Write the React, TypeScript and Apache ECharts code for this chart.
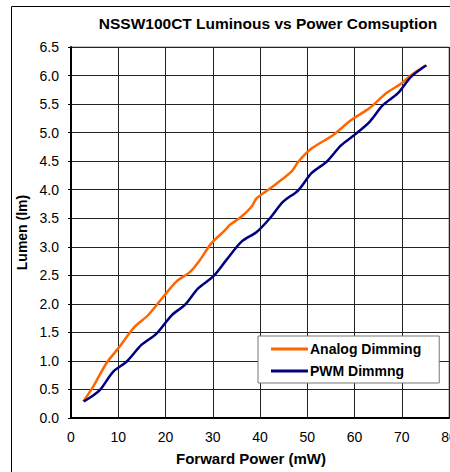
import React, { useEffect, useRef } from "react";
import * as echarts from "echarts";

const titleText = "NSSW100CT Luminous vs Power Comsuption";
const seriesNames = ["Analog Dimming", "PWM Dimmng"];
const xTicks = [0, 10, 20, 30, 40, 50, 60, 70, 80];

const analogPower = [2.6, 4.7, 7.5, 10.0, 13.5, 16.3, 19.5, 22.3, 25.2, 27.3, 29.7, 32.6, 33.6, 36.1, 38.2, 39.3, 42.1, 46.7, 48.1, 50.9, 55.5, 59.3, 63.2, 66.7, 69.9, 72.0, 75.2];
const analogLumen = [0.29, 0.55, 0.96, 1.22, 1.6, 1.8, 2.12, 2.39, 2.56, 2.77, 3.06, 3.29, 3.38, 3.53, 3.70, 3.85, 4.02, 4.32, 4.49, 4.72, 4.96, 5.22, 5.43, 5.69, 5.86, 6.01, 6.18];

const pwmPower = [2.7, 6.1, 8.9, 11.8, 14.9, 18.1, 21.3, 24.1, 26.9, 30.1, 32.9, 36.1, 39.3, 42.1, 44.9, 48.1, 50.9, 54.1, 57.2, 60.0, 63.2, 66.0, 69.2, 72.0, 75.2];
const pwmLumen = [0.29, 0.49, 0.81, 0.99, 1.28, 1.48, 1.8, 1.98, 2.27, 2.48, 2.77, 3.09, 3.26, 3.50, 3.79, 3.99, 4.29, 4.49, 4.78, 4.96, 5.19, 5.48, 5.69, 5.98, 6.18];

const FONT = "'Liberation Sans', Arial, sans-serif";

export default function App() {
  const ref = useRef<HTMLDivElement>(null);
  useEffect(() => {
    if (!ref.current) return;
    const chart = echarts.init(ref.current, null, { renderer: "svg" });
    const pairs = (xs: number[], ys: number[]) => xs.map((x, i) => [x, ys[i]]);
    chart.setOption({
      animation: false,
      backgroundColor: "#fff",
      textStyle: { fontFamily: FONT },
      title: {
        text: titleText,
        left: 263,
        top: 10,
        textAlign: "center",
        textStyle: { fontFamily: FONT, fontSize: 15.5, fontWeight: "bold", color: "#000" },
      },
      graphic: [
        {
          type: "rect",
          shape: { x: 11.5, y: 6.5, width: 460, height: 480 },
          style: { fill: "none", stroke: "#000", lineWidth: 1 },
          silent: true,
        },
      ],
      legend: {
        orient: "vertical",
        left: 258,
        top: 336,
        backgroundColor: "#fff",
        borderColor: "#777",
        borderWidth: 1,
        padding: [6, 18, 5, 13],
        itemGap: 8,
        itemWidth: 37,
        itemHeight: 3,
        icon: "rect",
        textStyle: { fontFamily: FONT, fontSize: 14, lineHeight: 14, fontWeight: "bold", color: "#000", padding: [0, 0, 0, -3] },
        data: seriesNames,
      },
      grid: {
        left: 71,
        top: 47,
        width: 378,
        height: 371,
        show: true,
        borderColor: "#888",
        borderWidth: 1,
        outerBoundsMode: "none",
        containLabel: false,
      },
      xAxis: {
        type: "value",
        min: 0,
        max: 80,
        interval: 10,
        name: "Forward Power (mW)",
        nameLocation: "middle",
        nameGap: 33,
        nameTextStyle: { fontFamily: FONT, fontSize: 15, fontWeight: "bold", color: "#000", padding: [0, 18, 0, 0] },
        axisLine: { show: true, lineStyle: { color: "#000", width: 2 } },
        axisTick: { show: false },
        axisLabel: {
          color: "#000",
          fontSize: 14,
          fontFamily: FONT,
          margin: 12,
          hideOverlap: false,
          showMaxLabel: true,
          formatter: (v: number) => (xTicks.includes(v) ? String(v) : ""),
        },
        splitLine: { show: true, lineStyle: { color: "#222", width: 1 } },
      },
      yAxis: {
        type: "value",
        min: 0,
        max: 6.5,
        interval: 0.5,
        name: "Lumen (lm)",
        nameLocation: "middle",
        nameGap: 41,
        nameTextStyle: { fontFamily: FONT, fontSize: 14, fontWeight: "bold", color: "#000" },
        axisLine: { show: true, lineStyle: { color: "#000", width: 2 } },
        axisTick: { show: true, length: 3, lineStyle: { color: "#000" } },
        axisLabel: {
          color: "#000",
          fontSize: 14,
          fontFamily: FONT,
          margin: 12,
          formatter: (v: number) => v.toFixed(1),
        },
        splitLine: { show: true, lineStyle: { color: "#222", width: 1 } },
      },
      series: [
        {
          name: seriesNames[0],
          type: "line",
          data: pairs(analogPower, analogLumen),
          showSymbol: false,
          smooth: 0.3,
          lineStyle: { color: "#FF6600", width: 2.5 },
          itemStyle: { color: "#FF6600" },
        },
        {
          name: seriesNames[1],
          type: "line",
          data: pairs(pwmPower, pwmLumen),
          showSymbol: false,
          smooth: 0.3,
          lineStyle: { color: "#000080", width: 2.5 },
          itemStyle: { color: "#000080" },
        },
      ],
    });
    return () => chart.dispose();
  }, []);
  return <div ref={ref} style={{ width: 450, height: 472, position: "absolute", left: 0, top: 0 }} />;
}
